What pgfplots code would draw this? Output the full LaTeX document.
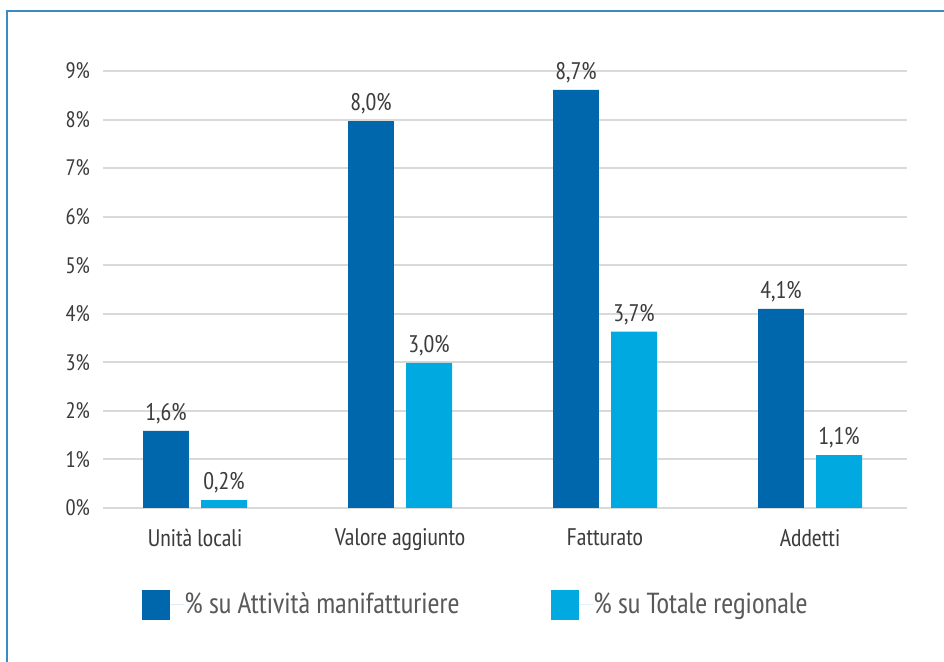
\documentclass[border=0pt]{standalone}
\usepackage{pgfplots}
\pgfplotsset{compat=1.18}
\usepackage{pgfplotstable}
\usepackage{fontspec}
\setmainfont{PT Sans Narrow}
\definecolor{dark}{HTML}{0067AC}
\definecolor{light}{HTML}{00A9E0}
\definecolor{gridc}{HTML}{D9D9D9}
\definecolor{txt}{HTML}{3C3C3C}
\definecolor{legtxt}{HTML}{595959}
\definecolor{framec}{HTML}{3A8AC4}

\pgfplotstableread{
x y lab
0 1.59 1,6
1 7.97 8,0
2 8.61 8,7
3 4.10 4,1
}\manif
\pgfplotstableread{
x y lab
0 0.16 0,2
1 2.99 3,0
2 3.63 3,7
3 1.09 1,1
}\totreg

\begin{document}
\begin{tikzpicture}[x=1pt,y=1pt]
\useasboundingbox (0,0) rectangle (472,331);
\draw[framec, line width=1pt] (3.5,0) -- (3.5,325.5) -- (472,325.5);
\begin{axis}[
  at={(51.5pt,77pt)}, anchor=south west,
  scale only axis, width=402pt, height=218.5pt,
  xmin=-0.449, xmax=3.473, ymin=0, ymax=9,
  ybar, clip=false,
  axis line style={draw=none},
  major tick length=0pt,
  xtick={0,1,2,3},
  xticklabels={Unità locali, Valore aggiunto, Fatturato, Addetti},
  ytick={0,1,2,3,4,5,6,7,8,9},
  yticklabels={0\%,1\%,2\%,3\%,4\%,5\%,6\%,7\%,8\%,9\%},
  ymajorgrids, grid style={gridc, line width=1pt},
  yticklabel style={font=\fontsize{11.2}{13}\selectfont, text=txt, xshift=-3pt},
  xticklabel style={font=\fontsize{12}{14}\selectfont, text=txt, yshift=-7pt},
  point meta=explicit symbolic,
  nodes near coords={\pgfplotspointmeta\%},
  every node near coord/.append style={font=\fontsize{12}{14}\selectfont, text=txt},
  legend columns=2,
  legend style={at={(axis description cs:0.0485,-0.222)}, anchor=west,
    draw=none, fill=none, inner sep=0pt, column sep=0pt,
    nodes={inner sep=0pt, text width=183.5pt, align=flush left, anchor=west,
      font=\fontsize{14.5}{16}\selectfont, text=legtxt}},
  legend image code/.code={\fill[#1] (0pt,-7.5pt) rectangle (14pt,7.5pt);
    \path (0pt,0pt) -- (21pt,0pt);},
]
\addplot[fill=dark, draw=none, bar width=0.224, bar shift=-0.1415]
  table[x=x, y=y, meta=lab]{\manif};
\addlegendentry{\% su Attività manifatturiere}
\addplot[fill=light, draw=none, bar width=0.224, bar shift=0.1415]
  table[x=x, y=y, meta=lab]{\totreg};
\addlegendentry{\% su Totale regionale}
\end{axis}
\end{tikzpicture}
\end{document}
